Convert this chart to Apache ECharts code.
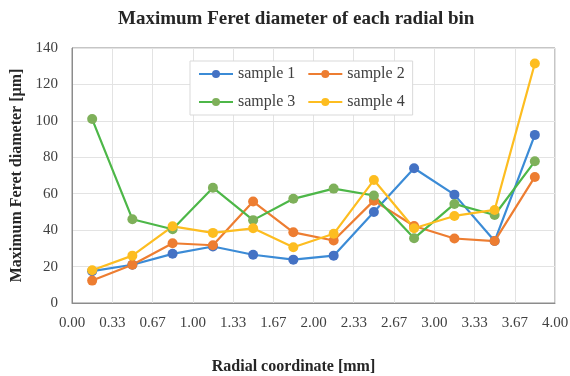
<!DOCTYPE html>
<html>
<head>
<meta charset="utf-8">
<script src="https://cdn.jsdelivr.net/npm/echarts@6/dist/echarts.min.js"></script>
<style>
  html, body { margin: 0; padding: 0; background: #fff; }
  #chart { width: 570px; height: 376px; }
</style>
</head>
<body>
<div id="chart"></div>
<script>
// bin centres (mm)
var binCenters = [0.167, 0.5, 0.833, 1.167, 1.5, 1.833, 2.167, 2.5, 2.833, 3.167, 3.5, 3.833];
var sample1 = [17.5, 21, 27, 31, 26.5, 23.8, 26, 50, 74, 59.5, 34, 92.3];
var sample2 = [12.3, 21, 32.8, 31.7, 55.7, 38.8, 34.3, 56.2, 42.3, 35.4, 34, 69.2];
var sample3 = [101, 46, 40.5, 63.3, 45.5, 57.2, 62.8, 59, 35.5, 54.4, 48.3, 77.8];
var sample4 = [18, 26, 42.1, 38.5, 41, 30.6, 38, 67.5, 41, 47.8, 51.1, 131.5];
var seriesNames = ['sample 1', 'sample 2', 'sample 3', 'sample 4'];

var serif = '"Liberation Serif", "DejaVu Serif", serif';

function pairs(vals) {
    var list = [];
    for (let i = 0; i < vals.length; i++) {
        list.push([binCenters[i], vals[i]]);
    }
    return list;
}

function makeSeries(name, vals, lineColor, dotColor) {
    return {
        name: name,
        type: 'line',
        data: pairs(vals),
        symbol: 'circle',
        symbolSize: 10,
        showSymbol: true,
        lineStyle: { color: lineColor, width: 2.2 },
        itemStyle: { color: dotColor, borderWidth: 0 },
        emphasis: { disabled: true },
        z: 2
    };
}

var chart = echarts.init(document.getElementById('chart'));
chart.setOption({
    animation: false,
    title: {
        text: 'Maximum Feret diameter of each radial bin',
        left: 113,
        top: 5,
        textStyle: { fontFamily: serif, fontSize: 19, fontWeight: 'bold', color: '#262626' }
    },
    legend: {
        data: seriesNames,
        left: 190,
        top: 61,
        width: 230,
        itemWidth: 34,
        itemHeight: 10,
        itemGap: 12,
        padding: [5, 8, 5, 8],
        backgroundColor: '#fff',
        borderColor: '#d9d9d9',
        borderWidth: 1,
        textStyle: { fontFamily: serif, fontSize: 16, color: '#404040' }
    },
    grid: {
        left: 72,
        right: 15,
        top: 48,
        bottom: 73,
        containLabel: false,
        outerBoundsMode: 'none',
        show: true,
        borderColor: '#8c8c8c',
        borderWidth: 1
    },
    xAxis: {
        type: 'value',
        min: 0,
        max: 4,
        interval: 1 / 3,
        name: 'Radial coordinate [mm]',
        nameLocation: 'middle',
        nameGap: 56,
        nameTextStyle: {
            fontFamily: serif, fontSize: 16, fontWeight: 'bold', color: '#262626',
            padding: [0, 40, 0, 0]
        },
        axisLine: { show: true, lineStyle: { color: '#8c8c8c' } },
        axisTick: { show: false },
        splitLine: { show: true, lineStyle: { color: '#e3e3e3' } },
        axisLabel: {
            fontFamily: serif, fontSize: 15, color: '#404040', margin: 13,
            formatter: function (value) { return value.toFixed(2); }
        }
    },
    yAxis: {
        type: 'value',
        min: 0,
        max: 140,
        interval: 20,
        name: 'Maximum Feret diameter [µm]',
        nameLocation: 'middle',
        nameGap: 46,
        nameTextStyle: { fontFamily: serif, fontSize: 16, fontWeight: 'bold', color: '#262626' },
        axisLine: { show: true, lineStyle: { color: '#8c8c8c' } },
        axisTick: { show: false },
        splitLine: { show: true, lineStyle: { color: '#e3e3e3' } },
        axisLabel: { fontFamily: serif, fontSize: 15, color: '#404040', margin: 14 }
    },
    series: [
        makeSeries(seriesNames[0], sample1, '#3b8bd6', '#4472c4'),
        makeSeries(seriesNames[1], sample2, '#ed7d31', '#ed7d31'),
        makeSeries(seriesNames[2], sample3, '#4db748', '#7eb05a'),
        makeSeries(seriesNames[3], sample4, '#fdbd20', '#fdbd20')
    ]
});
</script>
</body>
</html>
